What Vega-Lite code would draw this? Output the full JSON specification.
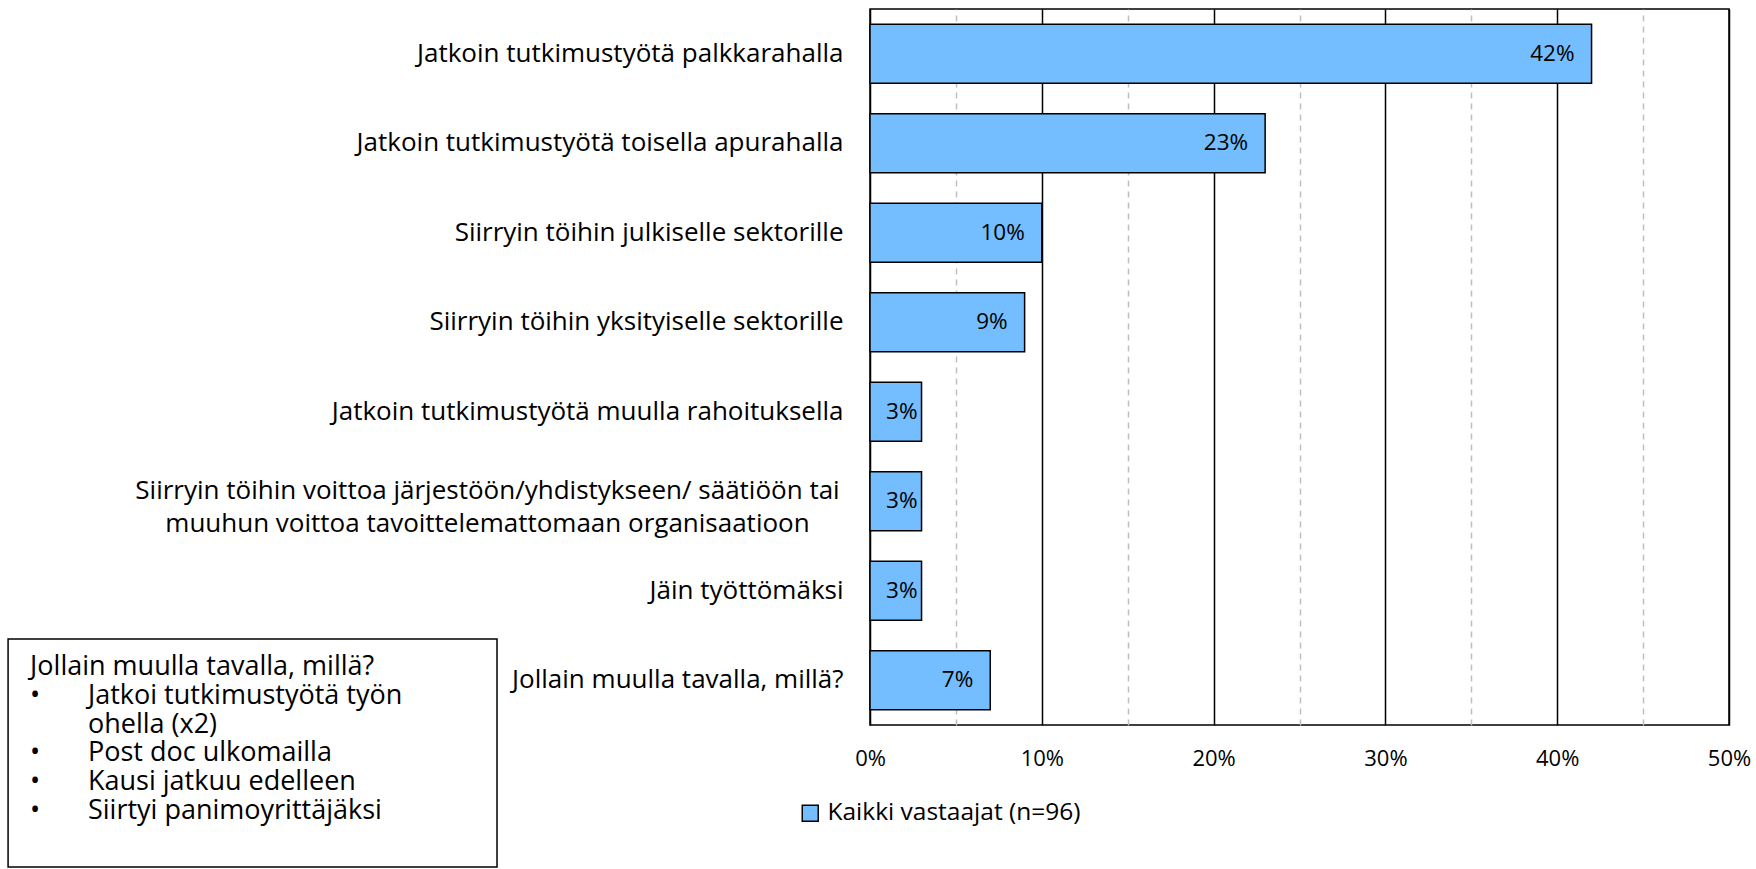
{
  "$schema": "https://vega.github.io/schema/vega-lite/v6.json",
  "width": 859,
  "height": 716,
  "padding": {"left": 7, "top": 9, "right": 0, "bottom": 0},
  "background": "white",
  "config": {
    "view": {"stroke": "black", "strokeWidth": 1.5},
    "font": "Open Sans",
    "text": {"font": "Open Sans", "color": "black"}
  },
  "datasets": {
    "vastaukset": [
      {"kategoria": "Jatkoin tutkimustyötä palkkarahalla", "osuus": 0.42},
      {"kategoria": "Jatkoin tutkimustyötä toisella apurahalla", "osuus": 0.23},
      {"kategoria": "Siirryin töihin julkiselle sektorille", "osuus": 0.10},
      {"kategoria": "Siirryin töihin yksityiselle sektorille", "osuus": 0.09},
      {"kategoria": "Jatkoin tutkimustyötä muulla rahoituksella", "osuus": 0.03},
      {"kategoria": "Siirryin töihin voittoa järjestöön/yhdistykseen/ säätiöön tai muuhun voittoa tavoittelemattomaan organisaatioon", "osuus": 0.03},
      {"kategoria": "Jäin työttömäksi", "osuus": 0.03},
      {"kategoria": "Jollain muulla tavalla, millä?", "osuus": 0.07}
    ],
    "muut": [
      {"rivi": 0, "luetelma": "", "teksti": "Jollain muulla tavalla, millä?"},
      {"rivi": 1, "luetelma": "•", "teksti": "Jatkoi tutkimustyötä työn"},
      {"rivi": 2, "luetelma": "", "teksti": "ohella (x2)"},
      {"rivi": 3, "luetelma": "•", "teksti": "Post doc ulkomailla"},
      {"rivi": 4, "luetelma": "•", "teksti": "Kausi jatkuu edelleen"},
      {"rivi": 5, "luetelma": "•", "teksti": "Siirtyi panimoyrittäjäksi"}
    ]
  },
  "layer": [
    {
      "data": {"name": "vastaukset"},
      "encoding": {
        "y": {
          "field": "kategoria",
          "type": "nominal",
          "sort": null,
          "scale": {"paddingInner": 0.34, "paddingOuter": 0.17},
          "axis": {
            "title": null,
            "domain": false,
            "ticks": false,
            "tickSize": 0,
            "grid": false,
            "labelFont": "Open Sans",
            "labelFontSize": 26,
            "labelColor": "black",
            "labelLimit": 1200,
            "labelLineHeight": 33,
            "labelExpr": "indexof(datum.value, 'organisaatioon') >= 0 ? ['Siirryin töihin voittoa järjestöön/yhdistykseen/ säätiöön tai', 'muuhun voittoa tavoittelemattomaan organisaatioon'] : datum.label",
            "labelAlign": {"condition": {"test": "indexof(datum.value, 'organisaatioon') >= 0", "value": "center"}, "value": "right"},
            "labelPadding": {"condition": {"test": "indexof(datum.value, 'organisaatioon') >= 0", "value": 383}, "value": 27},
            "labelOffset": {"condition": {"test": "indexof(datum.value, 'organisaatioon') >= 0", "value": -10}, "value": 0}
          }
        },
        "x": {
          "field": "osuus",
          "type": "quantitative",
          "scale": {"domain": [0, 0.5], "nice": false, "zero": true},
          "axis": {
            "title": null,
            "values": [0, 0.05, 0.1, 0.15, 0.2, 0.25, 0.3, 0.35, 0.4, 0.45, 0.5],
            "format": ".0%",
            "labelExpr": "round(datum.value * 100) % 10 == 0 ? datum.label : ''",
            "domain": false,
            "ticks": false,
            "tickSize": 0,
            "labelPadding": 23,
            "labelFont": "Open Sans",
            "labelFontSize": 22,
            "labelColor": "black",
            "labelFlush": false,
            "labelOverlap": false,
            "grid": true,
            "gridWidth": 1.5,
            "gridColor": {"condition": {"test": "round(datum.value * 100) % 10 == 0", "value": "black"}, "value": "#BFBFBF"},
            "gridDash": {"condition": {"test": "round(datum.value * 100) % 10 == 0", "value": []}, "value": [6, 5]}
          }
        }
      },
      "layer": [
        {
          "mark": {"type": "bar", "stroke": "black", "strokeWidth": 1.5},
          "encoding": {
            "fill": {
              "datum": "Kaikki vastaajat (n=96)",
              "type": "nominal",
              "scale": {"range": ["#74BDFE"]},
              "legend": {
                "orient": "none",
                "legendX": -72,
                "legendY": 792,
                "title": null,
                "padding": 0,
                "symbolType": "square",
                "symbolSize": 256,
                "symbolStrokeColor": "black",
                "symbolStrokeWidth": 1.5,
                "labelFont": "Open Sans",
                "labelFontSize": 24.5,
                "labelColor": "black",
                "labelOffset": 5,
                "labelLimit": 600
              }
            }
          }
        },
        {
          "transform": [{"filter": "datum.osuus >= 0.05"}],
          "mark": {"type": "text", "align": "right", "baseline": "middle", "dx": -17, "fontSize": 22.5, "font": "Open Sans", "color": "black"},
          "encoding": {"text": {"field": "osuus", "type": "quantitative", "format": ".0%"}}
        },
        {
          "transform": [{"filter": "datum.osuus < 0.05"}],
          "mark": {"type": "text", "align": "right", "baseline": "middle", "dx": -4, "fontSize": 22.5, "font": "Open Sans", "color": "black"},
          "encoding": {"text": {"field": "osuus", "type": "quantitative", "format": ".0%"}}
        }
      ]
    },
    {
      "data": {"name": "muut"},
      "layer": [
        {
          "transform": [{"filter": "datum.rivi == 0"}],
          "mark": {"type": "rect", "filled": false, "stroke": "black", "strokeWidth": 1.5},
          "encoding": {
            "x": {"datum": -0.5017, "type": "quantitative"},
            "x2": {"datum": -0.2171},
            "y": {"datum": -0.972, "type": "quantitative", "scale": {"domain": [-22.847, 2.014], "reverse": true, "nice": false, "zero": false}, "axis": null},
            "y2": {"datum": 6.945}
          }
        },
        {
          "transform": [{"filter": "datum.rivi == 0"}],
          "mark": {"type": "text", "align": "left", "baseline": "middle", "fontSize": 27, "font": "Open Sans", "color": "black"},
          "encoding": {
            "x": {"datum": -0.4889, "type": "quantitative"},
            "y": {"field": "rivi", "type": "quantitative", "scale": {"domain": [-22.847, 2.014], "reverse": true, "nice": false, "zero": false}, "axis": null},
            "text": {"field": "teksti"}
          }
        },
        {
          "transform": [{"filter": "datum.luetelma != ''"}],
          "mark": {"type": "text", "align": "left", "baseline": "middle", "fontSize": 27, "font": "Open Sans", "color": "black"},
          "encoding": {
            "x": {"datum": -0.4889, "type": "quantitative"},
            "y": {"field": "rivi", "type": "quantitative", "scale": {"domain": [-22.847, 2.014], "reverse": true, "nice": false, "zero": false}, "axis": null},
            "text": {"field": "luetelma"}
          }
        },
        {
          "transform": [{"filter": "datum.rivi > 0"}],
          "mark": {"type": "text", "align": "left", "baseline": "middle", "fontSize": 27, "font": "Open Sans", "color": "black"},
          "encoding": {
            "x": {"datum": -0.4552, "type": "quantitative"},
            "y": {"field": "rivi", "type": "quantitative", "scale": {"domain": [-22.847, 2.014], "reverse": true, "nice": false, "zero": false}, "axis": null},
            "text": {"field": "teksti"}
          }
        }
      ]
    }
  ],
  "resolve": {"scale": {"y": "independent"}}
}
